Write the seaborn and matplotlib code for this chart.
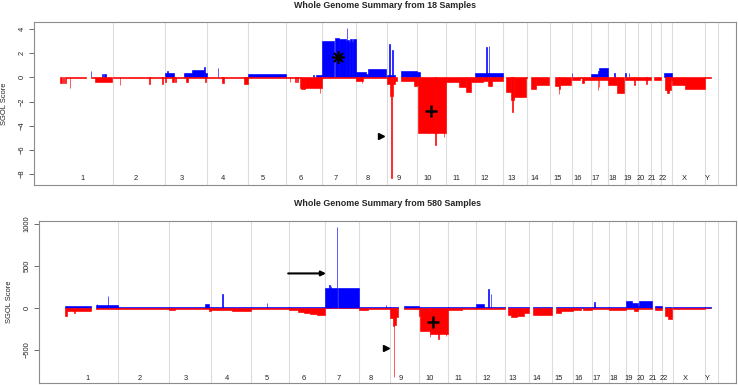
import numpy as np
import pandas as pd
import seaborn as sns
import matplotlib
matplotlib.use('Agg')
import matplotlib.pyplot as plt

# chromosome layout (hg19, Mb)
chrom_names = ['1', '2', '3', '4', '5', '6', '7', '8', '9', '10', '11', '12',
               '13', '14', '15', '16', '17', '18', '19', '20', '21', '22', 'X', 'Y']
chrom_lengths = [249.3, 243.2, 198.0, 191.2, 180.9, 171.1, 159.1, 146.4, 141.2,
                 135.5, 135.0, 133.9, 115.2, 107.3, 102.5, 90.4, 81.2, 78.1,
                 59.1, 63.0, 48.1, 51.3, 155.3, 59.4]

# segments: (chrom, start Mb, end Mb, SGOL score) -- 18 samples
gain18 = [('1', 143, 145, 0.5), ('1', 194, 202, 0.3), ('1', 208, 215, 0.3),
          ('3', 0, 43, 0.33), ('3', 8, 14, 0.5), ('3', 88, 127, 0.35), ('3', 127, 184, 0.6),
          ('3', 184, 190, 0.85), ('3', 190, 198, 0.35),
          ('4', 52, 54, 0.75),
          ('5', 0, 181, 0.27),
          ('6', 128, 130, 0.2), ('6', 142, 171, 0.2),
          ('7', 0, 57, 3.05), ('7', 60, 78, 3.25), ('7', 78, 110, 3.15), ('7', 110, 116, 3.05),
          ('7', 116, 118, 4.05), ('7', 118, 127, 3.1), ('7', 127, 132, 2.95), ('7', 132, 140, 3.15),
          ('7', 140, 146, 2.95), ('7', 146, 159, 3.15),
          ('8', 0, 48, 0.46), ('8', 48, 56, 0.3), ('8', 56, 140, 0.69),
          ('9', 0, 38, 0.22), ('9', 10, 12, 2.75), ('9', 24, 26, 2.3), ('9', 67, 141, 0.55),
          ('10', 0, 14, 0.45),
          ('12', 0, 134, 0.33), ('12', 56, 58, 2.55), ('12', 67, 69, 2.62),
          ('16', 0, 2, 0.35),
          ('17', 0, 30, 0.27), ('17', 30, 38, 0.5), ('17', 38, 81, 0.74),
          ('18', 28, 30, 0.36),
          ('19', 1, 3, 0.38), ('19', 18, 20, 0.38),
          ('22', 14, 51, 0.38)]

loss18 = [('1', 0, 10, -0.45), ('1', 12, 18, -0.45), ('1', 20, 27, -0.5), ('1', 27, 120, -0.06),
          ('1', 44, 46, -0.85), ('1', 143, 165, -0.06), ('1', 165, 245, -0.35),
          ('2', 0, 243, -0.06), ('2', 30, 32, -0.65), ('2', 166, 174, -0.55), ('2', 228, 233, -0.55),
          ('3', 0, 198, -0.06), ('3', 1, 3, -0.4), ('3', 35, 41, -0.4), ('3', 48, 50, -0.4),
          ('3', 99, 107, -0.4), ('3', 190, 192, -0.35),
          ('4', 0, 191, -0.06), ('4', 72, 80, -0.5), ('4', 176, 191, -0.55),
          ('5', 0, 181, -0.06),
          ('6', 0, 66, -0.06), ('6', 17, 19, -0.4), ('6', 42, 48, -0.4), ('6', 50, 55, -0.4),
          ('6', 66, 71, -0.85), ('6', 71, 90, -1.0), ('6', 90, 171, -0.85), ('6', 160, 162, -1.3),
          ('7', 0, 159, -0.06),
          ('8', 0, 31, -0.3), ('8', 27, 29, -0.45), ('8', 31, 146, -0.06),
          ('9', 0, 14, -0.55), ('9', 14, 19, -1.5), ('9', 19, 22, -8.35), ('9', 22, 26, -1.5),
          ('9', 26, 38, -0.55), ('9', 38, 47, -0.3), ('9', 67, 127, -0.3), ('9', 127, 141, -0.7),
          ('10', 0, 2, -0.6), ('10', 2, 135, -4.64), ('10', 86, 88, -5.6), ('10', 125, 127, -4.9),
          ('11', 0, 60, -0.36), ('11', 60, 93, -0.8), ('11', 93, 117, -1.25), ('11', 117, 135, -0.36),
          ('12', 0, 38, -0.36), ('12', 38, 62, -0.3), ('12', 62, 82, -0.7), ('12', 82, 134, -0.3),
          ('13', 16, 37, -1.25), ('13', 37, 52, -1.88), ('13', 44, 46, -2.85), ('13', 52, 106, -1.65),
          ('13', 106, 115, -0.06),
          ('14', 16, 40, -1.0), ('14', 40, 103, -0.66),
          ('15', 20, 39, -0.7), ('15', 39, 45, -1.0), ('15', 41, 43, -1.4), ('15', 45, 100, -0.64),
          ('16', 0, 36, -0.22), ('16', 36, 49, -0.06), ('16', 49, 56, -0.5), ('16', 56, 90, -0.2),
          ('17', 0, 81, -0.22), ('17', 30, 33, -1.05), ('17', 35, 37, -0.8),
          ('18', 0, 39, -0.6), ('18', 39, 75, -1.26),
          ('19', 0, 42, -0.22), ('19', 42, 49, -0.6), ('19', 49, 59, -0.22),
          ('20', 0, 63, -0.22), ('20', 40, 42, -0.55),
          ('21', 14, 48, -0.22),
          ('22', 16, 47, -1.05), ('22', 27, 35, -1.27), ('22', 47, 51, -0.22),
          ('X', 0, 60, -0.63), ('X', 60, 155, -0.96),
          ('Y', 0, 30, -0.06)]

# 580 samples
gain580 = [('1', 0, 122, 20), ('1', 145, 249, 35), ('1', 150, 152, 45), ('1', 202, 204, 145),
           ('2', 0, 243, 8),
           ('3', 0, 198, 12), ('3', 173, 189, 40),
           ('4', 0, 191, 10), ('4', 54, 56, 159),
           ('5', 0, 181, 8), ('5', 75, 77, 52),
           ('6', 0, 171, 8),
           ('7', 0, 57, 231), ('7', 61, 159, 236), ('7', 19, 22, 275), ('7', 25, 27, 255),
           ('7', 54.5, 56.5, 961),
           ('8', 0, 146, 8), ('8', 127, 129, 30),
           ('9', 0, 38, 12), ('9', 70, 141, 24),
           ('10', 0, 135, 10),
           ('11', 0, 135, 10),
           ('12', 0, 35, 40), ('12', 35, 134, 16), ('12', 57, 59, 222), ('12', 68, 70, 159),
           ('13', 18, 115, 6),
           ('14', 19, 107, 12),
           ('15', 20, 102, 10),
           ('16', 0, 90, 12),
           ('17', 0, 81, 10), ('17', 9, 11, 72),
           ('18', 0, 78, 16),
           ('19', 0, 31, 80), ('19', 31, 59, 60),
           ('20', 0, 5, 20), ('20', 5, 63, 87),
           ('21', 14, 48, 20),
           ('22', 16, 51, 12),
           ('X', 0, 155, 12),
           ('Y', 0, 27, 8)]

loss580 = [('1', 0, 8, -95), ('1', 8, 122, -35), ('1', 43, 45, -60), ('1', 145, 249, -18),
           ('2', 0, 243, -12),
           ('3', 0, 30, -28), ('3', 30, 198, -18), ('3', 190, 198, -36),
           ('4', 0, 100, -20), ('4', 100, 191, -32),
           ('5', 0, 181, -12),
           ('6', 0, 40, -20), ('6', 40, 70, -45), ('6', 70, 100, -58), ('6', 100, 130, -70),
           ('6', 130, 171, -88),
           ('7', 0, 159, -5),
           ('8', 0, 45, -20), ('8', 45, 146, -8),
           ('9', 0, 15, -120), ('9', 15, 20, -220), ('9', 20, 23, -822), ('9', 23, 28, -200),
           ('9', 28, 38, -110), ('9', 70, 141, -18),
           ('10', 0, 3, -100), ('10', 3, 50, -274), ('10', 50, 135, -313), ('10', 49, 51, -345),
           ('10', 89, 91, -365), ('10', 124, 126, -340),
           ('11', 0, 65, -28), ('11', 65, 135, -15),
           ('12', 0, 134, -12),
           ('13', 18, 30, -80), ('13', 30, 60, -110), ('13', 60, 90, -95), ('13', 90, 115, -65),
           ('14', 19, 60, -90), ('14', 60, 107, -80),
           ('15', 20, 45, -60), ('15', 45, 102, -35),
           ('16', 0, 36, -25), ('16', 46, 90, -22),
           ('17', 0, 81, -15),
           ('18', 0, 78, -28),
           ('19', 0, 40, -8), ('19', 40, 59, -36),
           ('20', 0, 63, -8),
           ('21', 14, 48, -20),
           ('22', 16, 30, -99), ('22', 30, 49, -127),
           ('X', 0, 155, -12),
           ('Y', 0, 27, -6)]

# annotation marks (chrom, Mb, score)
star18 = ('7', 73, 1.65)
plus18 = ('10', 65, -2.8)
tri18 = ('8', 117, -4.86)
plus580 = ('10', 66, -167)
tri580 = ('8', 128, -483)
arrow580_from = ('5', 163, 409)
arrow580_to = ('7', 17, 409)

titles = ['Whole Genome Summary from 18 Samples', 'Whole Genome Summary from 580 Samples']

sns.set_style('white')
plt.rcParams['font.family'] = ['Liberation Sans', 'DejaVu Sans']

chrom_end = np.cumsum(chrom_lengths)
chrom_start = dict(zip(chrom_names, chrom_end - np.array(chrom_lengths)))


def seg_frame(segs):
    df = pd.DataFrame(segs, columns=['chrom', 'start', 'end', 'score'])
    df['x'] = df['chrom'].map(chrom_start) + df['start']
    df['width'] = df['end'] - df['start']
    return df


def gpos(mark):
    return chrom_start[mark[0]] + mark[1]


fig = plt.figure(figsize=(7.38, 3.85), dpi=100)
ax_top = fig.add_axes([34 / 738, 1 - 185 / 385, 702 / 738, 163 / 385])
ax_bot = fig.add_axes([39 / 738, 1 - 383 / 385, 697 / 738, 162 / 385])

panels = [(ax_top, gain18, loss18, (-8.9, 4.58), [-8, -6, -4, -2, 0, 2, 4], -8.34),
          (ax_bot, gain580, loss580, (-893, 1032), [-500, 0, 500, 1000], -837)]

for ax, gains, losses, ylim, yticks, label_y in panels:
    for end in chrom_end:
        ax.axvline(end, color='#dcdcdc', lw=0.8, zorder=0)
    g = seg_frame(gains)
    l = seg_frame(losses)
    ax.bar(g['x'], g['score'], width=g['width'], align='edge', color='#0000ff',
           edgecolor='#0000ff', linewidth=0.45, zorder=2)
    ax.bar(l['x'], l['score'], width=l['width'], align='edge', color='#ff0000',
           edgecolor='#ff0000', linewidth=0.45, zorder=3)
    for name, st, ln in zip(chrom_names, chrom_end - np.array(chrom_lengths), chrom_lengths):
        ax.text(st + ln / 2 - 18, label_y, name, ha='center', va='center',
                fontsize=5.4, color='#222222')
    ax.set_xlim(-124, 3182)
    ax.set_ylim(*ylim)
    ax.set_yticks(yticks)
    ax.set_xticks([])
    ax.tick_params(axis='y', length=3.5, width=0.6, color='#555555', pad=2.5,
                   labelsize=5.4, labelcolor='#222222', left=True)
    for t in ax.get_yticklabels():
        t.set_rotation(90)
        t.set_va('center')
        t.set_ha('right')
    ax.set_ylabel('SGOL Score', fontsize=5.4, color='#222222')
    ax.yaxis.set_label_coords(-0.037, 0.5)
    for sp in ax.spines.values():
        sp.set_color('#8c8c8c')
        sp.set_linewidth(0.8)

ax_top.plot(gpos(star18), star18[2], marker=(8, 2, 0), ms=9, mew=1.2, color='black', zorder=5)
ax_top.plot(gpos(plus18), plus18[2], marker='+', ms=9, mew=1.8, color='black', zorder=5)
ax_top.plot(gpos(tri18), tri18[2], marker='>', ms=4, color='black', zorder=5)
ax_bot.plot(gpos(plus580), plus580[2], marker='+', ms=9, mew=1.8, color='black', zorder=5)
ax_bot.plot(gpos(tri580), tri580[2], marker='>', ms=4, color='black', zorder=5)
ax_bot.annotate('', xy=(gpos(arrow580_to), arrow580_to[2]),
                xytext=(gpos(arrow580_from), arrow580_from[2]),
                arrowprops=dict(arrowstyle='-|>', lw=1.5, color='black', mutation_scale=7))

fig.text(385 / 738, 1 - 5 / 385, titles[0], ha='center', va='center', fontsize=6.4, fontweight='bold')
fig.text(387 / 738, 1 - 204 / 385, titles[1], ha='center', va='center', fontsize=6.4, fontweight='bold')

fig.savefig('out.png', dpi=100)
